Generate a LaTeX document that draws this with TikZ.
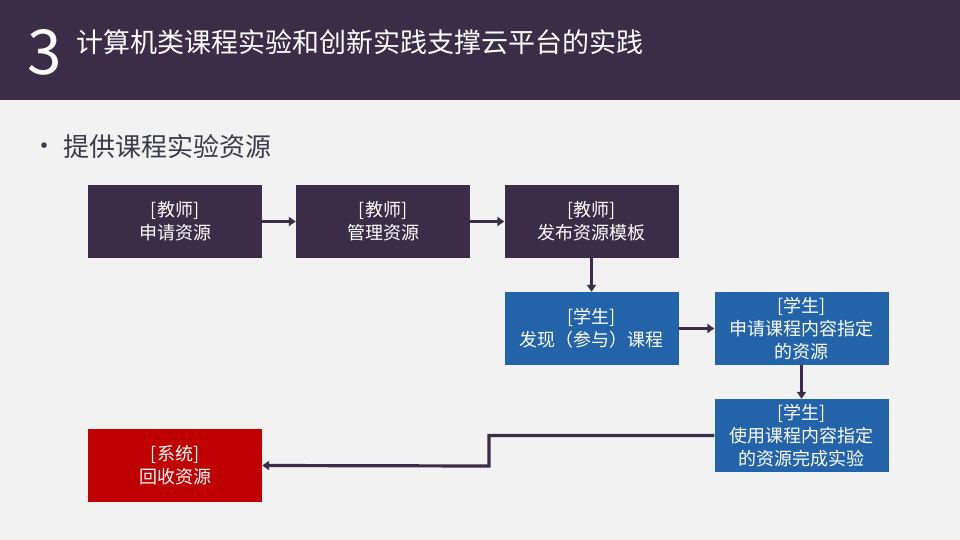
\documentclass[tikz,border=0pt]{standalone}
\usepackage{fontspec}
\setmainfont{Noto Sans CJK SC}
\usetikzlibrary{arrows.meta,positioning}
\definecolor{darkp}{HTML}{3B2C47}
\definecolor{bgc}{HTML}{F2F2F2}
\definecolor{blueb}{HTML}{2263AA}
\definecolor{redb}{HTML}{C00000}
\definecolor{txtc}{HTML}{3A3A48}
\begin{document}
\begin{tikzpicture}[x=1pt,y=-1pt,
  box/.style={minimum width=174pt,minimum height=73pt,inner sep=0pt,text=white,align=center,
    font=\fontsize{18}{23}\selectfont},
  tbox/.style={box,fill=darkp},
  sbox/.style={box,fill=blueb},
  rbox/.style={box,fill=redb},
  conn/.style={draw=darkp,line width=3.2pt,-{Triangle[length=7pt,width=9pt]}}]
\fill[bgc] (0,0) rectangle (960,540);
\useasboundingbox (0,0) rectangle (960,540);
\fill[darkp] (0,0) rectangle (960,100);
\node[anchor=west,text=white,font=\fontsize{62}{62}\selectfont,inner sep=0pt] (num) at (27,52) {3};
\node[anchor=west,text=white,font=\fontsize{27}{27}\selectfont,inner sep=0pt] (title) at (76,42) {计算机类课程实验和创新实践支撑云平台的实践};
\node[anchor=center,text=txtc,font=\fontsize{26}{26}\selectfont,inner sep=0pt] (bul) at (44,149) {•};
\node[anchor=west,text=txtc,font=\fontsize{26}{26}\selectfont,inner sep=0pt] (sub) at (63,147) {提供课程实验资源};
\node[tbox] (a) at (175,221.5) {[教师]\\申请资源};
\node[tbox] (b) at (383,221.5) {[教师]\\管理资源};
\node[tbox] (c) at (591.5,221.5) {[教师]\\发布资源模板};
\node[sbox] (d) at (591.5,328.5) {[学生]\\发现（参与）课程};
\node[sbox] (e) at (801.5,328.5) {[学生]\\申请课程内容指定\\的资源};
\node[sbox] (f) at (801.5,435.5) {[学生]\\使用课程内容指定\\的资源完成实验};
\node[rbox] (g) at (175,465.5) {[系统]\\回收资源};
\draw[conn] (a) -- (b);
\draw[conn] (b) -- (c);
\draw[conn] (c) -- (d);
\draw[conn] (d) -- (e);
\draw[conn] (e) -- (f);
\draw[conn] (f.west) -- (489,435.5) -- (489,466) -- (g.east);
\end{tikzpicture}
\end{document}
